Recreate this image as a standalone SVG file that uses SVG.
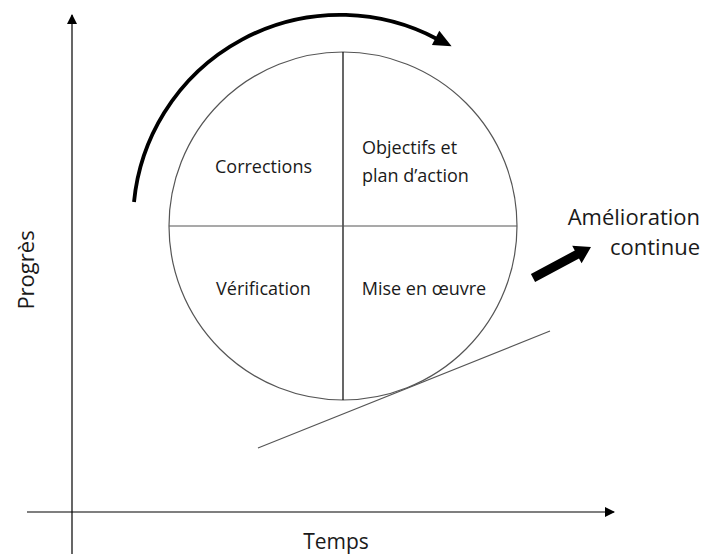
<svg xmlns="http://www.w3.org/2000/svg" width="704" height="554" viewBox="0 0 704 554">
<style>
text{font-family:"Open Sans","Noto Sans","Liberation Sans",sans-serif;font-size:18px;fill:#1a1a1a}
.big{font-size:22px}
.thin{stroke:#000;stroke-width:1.2;fill:none}
.gray{stroke:#555;stroke-width:1.2;fill:none}
</style>
<defs>
<marker id="ah" markerWidth="10" markerHeight="10" refX="9" refY="5" orient="auto" markerUnits="userSpaceOnUse">
<path d="M0,0 L10,5 L0,10 Z" fill="#000"/>
</marker>
</defs>
<rect width="704" height="554" fill="#fff"/>
<g id="connectors">
<line id="axis-y" class="thin" x1="72" y1="554" x2="72" y2="15" marker-end="url(#ah)"/>
<line id="axis-x" class="thin" x1="27" y1="512" x2="614" y2="512" marker-end="url(#ah)"/>
<line id="tangent" class="gray" x1="258" y1="448" x2="550" y2="331"/>
<g id="cycle-arrow">
<path d="M134 202 A207 207 0 0 1 437 39" fill="none" stroke="#000" stroke-width="3.8"/>
<polygon points="451.6,46.2 439.3,30.8 431.9,45" fill="#000"/>
</g>
<polygon id="improve-arrow" points="530.9,274 574.8,250.5 572.2,245.7 591,247 581.6,263.3 579,258.5 535.1,282" fill="#000"/>
</g>
<g id="wheel">
<circle cx="343" cy="226" r="174" class="gray"/>
<line class="thin" x1="343" y1="52" x2="343" y2="400"/>
<line class="gray" x1="169" y1="226" x2="517" y2="226"/>
</g>
<g id="corrections"><text x="263.5" y="173" text-anchor="middle">Corrections</text></g>
<g id="objectifs"><text x="362" y="154">Objectifs et</text><text x="362" y="182">plan d’action</text></g>
<g id="verification"><text x="263.5" y="295" text-anchor="middle">Vérification</text></g>
<g id="mise-en-oeuvre"><text x="424" y="295" text-anchor="middle">Mise en œuvre</text></g>
<g id="amelioration"><text class="big" x="700" y="225" text-anchor="end">Amélioration</text><text class="big" x="700" y="255" text-anchor="end">continue</text></g>
<g id="progres"><text class="big" transform="translate(34 270) rotate(-90)" text-anchor="middle">Progrès</text></g>
<g id="temps"><text class="big" x="336" y="549" text-anchor="middle" style="font-size:21px">Temps</text></g>
</svg>
